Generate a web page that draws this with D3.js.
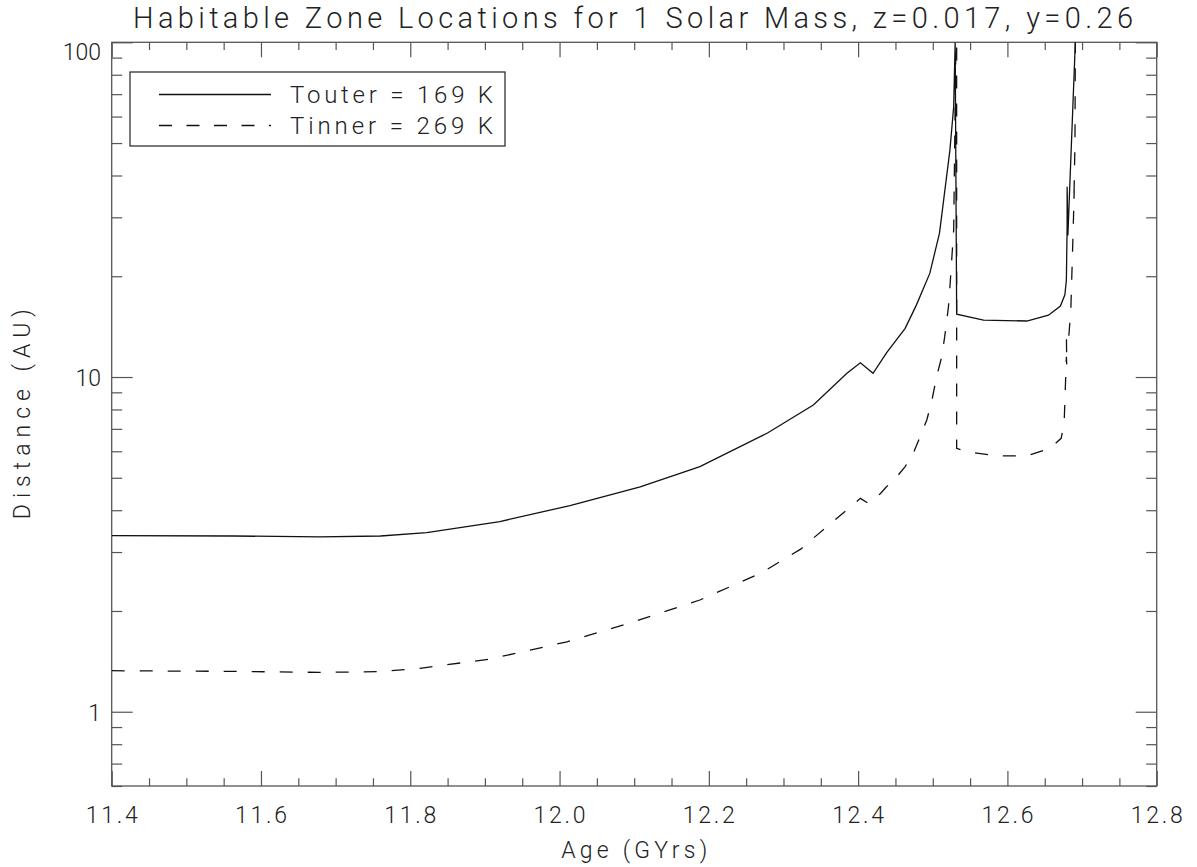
<!DOCTYPE html>
<html>
<head>
<meta charset="utf-8">
<script src="https://cdn.jsdelivr.net/npm/d3@7"></script>
<style>
  html, body { margin: 0; padding: 0; background: #fff; }
  svg { display: block; }
  text { font-family: Roboto, "Liberation Sans", Arial, sans-serif; font-weight: 300; fill: #222; }
</style>
</head>
<body>
<svg id="chart" width="1197" height="867"></svg>
<script>
// ---- Data ----
const ageOuter = [11.40, 11.563, 11.679, 11.76, 11.822, 11.92, 12.014, 12.108, 12.188, 12.278, 12.34, 12.385, 12.403, 12.42, 12.438, 12.463, 12.478, 12.496, 12.509, 12.523, 12.528, 12.530, 12.532, 12.568, 12.626, 12.655, 12.671, 12.677, 12.679, 12.680, 12.680, 12.681, 12.691];
const distOuter = [3.36, 3.35, 3.33, 3.35, 3.43, 3.70, 4.13, 4.70, 5.40, 6.79, 8.25, 10.26, 11.03, 10.26, 11.8, 13.98, 16.4, 20.4, 26.9, 47.7, 64.2, 100, 15.4, 14.8, 14.7, 15.3, 16.3, 17.6, 19.5, 28.1, 37.0, 26.5, 100];

const ageInner = [11.40, 11.563, 11.679, 11.755, 11.813, 11.907, 12.01, 12.099, 12.188, 12.269, 12.323, 12.342, 12.385, 12.403, 12.414, 12.43, 12.438, 12.452, 12.463, 12.474, 12.483, 12.492, 12.499, 12.505, 12.512, 12.516, 12.521, 12.523, 12.528, 12.531, 12.532, 12.532, 12.546, 12.586, 12.626, 12.657, 12.672, 12.676, 12.679, 12.6795, 12.679, 12.682, 12.685, 12.688, 12.6895, 12.689, 12.6905, 12.691];
const distInner = [1.326, 1.32, 1.311, 1.317, 1.348, 1.437, 1.618, 1.857, 2.157, 2.59, 3.06, 3.33, 4.01, 4.34, 4.19, 4.49, 4.7, 5.04, 5.4, 5.92, 6.63, 7.44, 8.54, 10.0, 11.5, 13.2, 16.2, 18.6, 27.5, 100, 100, 6.12, 5.98, 5.81, 5.81, 6.12, 6.56, 7.27, 11.5, 10.8, 13.5, 13.0, 16.0, 27.0, 36.0, 33.0, 50.0, 100];

const xMajorTicks = [11.4, 11.6, 11.8, 12.0, 12.2, 12.4, 12.6, 12.8];
const xTickLabels = ["11.4", "11.6", "11.8", "12.0", "12.2", "12.4", "12.6", "12.8"];
const yMajorTicks = [1, 10, 100];
const yTickLabels = ["1", "10", "100"];
const yMinorTicks = [0.6, 0.7, 0.8, 0.9, 2, 3, 4, 5, 6, 7, 8, 9, 20, 30, 40, 50, 60, 70, 80, 90];
const legendLabels = ["Touter = 169 K", "Tinner = 269 K"];
const titleText = "Habitable Zone Locations for 1 Solar Mass, z=0.017, y=0.26";

// ---- Layout ----
const L = 111.7, R = 1156.7, T = 42.3, B = 786;
const svg = d3.select("#chart");
const x = d3.scaleLinear().domain([11.4, 12.8]).range([L, R]);
const y = d3.scaleLog().domain([0.6, 100]).range([B, T]);
const axisColor = "#555";

const xMinorTicks = d3.range(0, 29).map(i => 11.4 + i * 0.05).filter(v => Math.abs((v - 11.4) / 0.2 - Math.round((v - 11.4) / 0.2)) > 1e-6);

svg.append("clipPath").attr("id", "clip").append("rect")
  .attr("x", L).attr("y", T).attr("width", R - L).attr("height", B - T);

function axisStyle(g) {
  g.select(".domain").remove();
  g.selectAll("line").attr("stroke", axisColor).attr("stroke-width", 1.2);
  g.selectAll("text").remove();
}
svg.append("g").attr("transform", `translate(0,${B})`)
  .call(d3.axisBottom(x).tickValues(xMajorTicks).tickSize(-15)).call(axisStyle);
svg.append("g").attr("transform", `translate(0,${B})`)
  .call(d3.axisBottom(x).tickValues(xMinorTicks).tickSize(-7.7)).call(axisStyle);
svg.append("g").attr("transform", `translate(0,${T})`)
  .call(d3.axisTop(x).tickValues(xMajorTicks).tickSize(-15)).call(axisStyle);
svg.append("g").attr("transform", `translate(0,${T})`)
  .call(d3.axisTop(x).tickValues(xMinorTicks).tickSize(-7.7)).call(axisStyle);
svg.append("g").attr("transform", `translate(${L},0)`)
  .call(d3.axisLeft(y).tickValues(yMajorTicks).tickSize(-21)).call(axisStyle);
svg.append("g").attr("transform", `translate(${L},0)`)
  .call(d3.axisLeft(y).tickValues(yMinorTicks).tickSize(-10.5)).call(axisStyle);
svg.append("g").attr("transform", `translate(${R},0)`)
  .call(d3.axisRight(y).tickValues(yMajorTicks).tickSize(-21)).call(axisStyle);
svg.append("g").attr("transform", `translate(${R},0)`)
  .call(d3.axisRight(y).tickValues(yMinorTicks).tickSize(-10.5)).call(axisStyle);

svg.append("rect").attr("x", L).attr("y", T).attr("width", R - L).attr("height", B - T)
  .attr("fill", "none").attr("stroke", axisColor).attr("stroke-width", 1.3);

// tick labels
svg.append("g").selectAll("text").data(xMajorTicks).join("text")
  .attr("x", d => x(d)).attr("y", 823).attr("text-anchor", "middle")
  .attr("font-size", 23).attr("textLength", 52).attr("lengthAdjust", "spacing")
  .text((d, i) => xTickLabels[i]);
svg.append("g").selectAll("text").data(yMajorTicks).join("text")
  .attr("x", 101).attr("y", d => d === 100 ? y(d) + 18 : y(d) + 9)
  .attr("text-anchor", "end").attr("font-size", 23).text((d, i) => yTickLabels[i]);

// axis titles
svg.append("text").attr("x", (L + R) / 2).attr("y", 858).attr("text-anchor", "middle")
  .attr("font-size", 23).attr("textLength", 146).attr("lengthAdjust", "spacing").text("Age (GYrs)");
svg.append("text").attr("transform", `translate(30,${(T + B) / 2}) rotate(-90)`)
  .attr("text-anchor", "middle").attr("font-size", 23)
  .attr("textLength", 210).attr("lengthAdjust", "spacing").text("Distance (AU)");

// title
svg.append("text").attr("x", 633).attr("y", 28).attr("text-anchor", "middle")
  .attr("font-size", 29).attr("textLength", 1000).attr("lengthAdjust", "spacing").text(titleText);

// lines
const line = d3.line().x(d => x(d[0])).y(d => y(d[1]));
const outerPts = ageOuter.map((a, i) => [a, distOuter[i]]);
const innerPts = ageInner.map((a, i) => [a, distInner[i]]);
const plot = svg.append("g").attr("clip-path", "url(#clip)");
plot.append("path").datum(outerPts).attr("d", line)
  .attr("fill", "none").attr("stroke", "#111").attr("stroke-width", 1.3);
plot.append("path").datum(innerPts).attr("d", line)
  .attr("fill", "none").attr("stroke", "#111").attr("stroke-width", 1.3)
  .attr("stroke-dasharray", "13,15");

// legend
const lg = svg.append("g");
lg.append("rect").attr("x", 130).attr("y", 72).attr("width", 375).attr("height", 74)
  .attr("fill", "#fff").attr("stroke", "#222").attr("stroke-width", 1.2);
const legendDash = [null, "13,14.5"];
legendLabels.forEach((lab, i) => {
  const yy = 94.5 + i * 31;
  const ln = lg.append("line").attr("x1", 159).attr("x2", 271).attr("y1", yy).attr("y2", yy)
    .attr("stroke", "#111").attr("stroke-width", 1.3);
  if (legendDash[i]) ln.attr("stroke-dasharray", legendDash[i]);
  lg.append("text").attr("x", 290).attr("y", yy + 8).attr("font-size", 24)
    .attr("textLength", 203).attr("lengthAdjust", "spacing").text(lab);
});
</script>
</body>
</html>
